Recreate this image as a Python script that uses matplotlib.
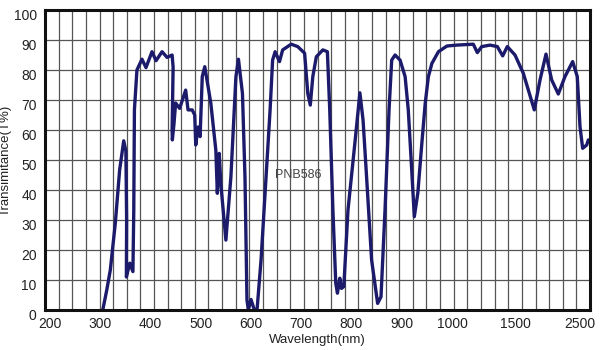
import matplotlib
matplotlib.use("Agg")
import matplotlib.pyplot as plt
import matplotlib.transforms as mtrans
import numpy as np

plt.rcParams['font.family'] = ['Liberation Sans', 'DejaVu Sans']

# transmittance curve (wavelength nm, T %)
wavelength = [305, 313, 320, 330, 338.6, 346.7, 351, 352.5, 352, 358.7, 365,
              366.7, 368, 373, 383, 391, 403, 411, 423, 433, 443, 445, 443,
              443.5, 446.7, 450, 458, 470, 474.7, 483, 488, 490, 494.7, 498.7,
              503, 508, 520, 530, 533, 536.7, 540, 550, 560, 570, 575, 583,
              588, 592, 594.7, 600, 606.7, 612, 620, 630, 638, 643, 648, 656.7,
              663, 680, 693, 706.7, 713, 718, 723, 730, 743, 752, 756.7, 763,
              768.7, 772, 776.7, 780, 784.7, 793, 806.7, 816.7, 823, 830, 840,
              852, 858.7, 866.7, 874.7, 880, 886.7, 896.7, 906.7, 913, 918.7,
              925, 932, 940, 946.7, 953, 960, 973, 990, 1037, 1169, 1201, 1236,
              1302, 1360, 1402, 1439, 1500, 1628, 1797, 1885, 1977, 2064, 2166,
              2269, 2387, 2458, 2500, 2541, 2603, 2628]
transmittance = [0, 6.7, 13.3, 29, 46.7, 56.4, 53, 30, 11, 15.6, 12.8,
                 33, 66.7, 80, 83.6, 80.8, 86.1, 83.1, 86.1, 84.2, 85, 81, 60,
                 56.7, 62, 69, 67.2, 73.3, 66.7, 66.7, 65, 55, 61, 57.8,
                 77.8, 81.1, 69, 53.3, 38.9, 52.2, 42, 23.3, 44.4, 77.8, 83.6, 72.2,
                 44.4, 3.3, 0, 3.5, 0, 0, 16.7, 44.4, 66.7, 83.3, 86.1, 82.8,
                 86.7, 88.6, 87.8, 85.6, 72.2, 68.3, 77.8, 84.4, 86.7, 86.1, 66.7, 33.3,
                 8.9, 5.6, 10.6, 7.2, 7.8, 33.3, 55.6, 72.4, 63.3, 44.4, 16.7,
                 2.2, 4.4, 33.3, 66.7, 83.3, 85, 83.3, 77.8, 66.7, 50,
                 31.1, 39, 55.6, 68.9, 77.8, 82.2, 86.1, 88, 88.3, 88.6, 85.8, 87.8,
                 88.3, 87.8, 84.7, 87.8, 85, 78.9, 66.7, 76.7, 85.3, 76.7, 72,
                 77.8, 82.8, 77.8, 61.1, 53.9, 55, 56.7]

xtick_values = [200, 300, 400, 500, 600, 700, 800, 900, 1000, 1500, 2500]
ytick_values = list(range(0, 101, 10))

# broken wavelength axis: linear to 1000, then squeezed
scale_wl = np.array([0, 200, 1000, 1500, 2500, 3000])
scale_pos = np.array([-50, 50, 452, 515, 580, 612.5])


def forward(w):
    return np.interp(w, scale_wl, scale_pos)


def inverse(p):
    return np.interp(p, scale_pos, scale_wl)


fig = plt.figure(figsize=(6, 3.5), dpi=100)
ax = fig.add_axes([45 / 600, 1 - 310 / 350, 545 / 600, 300 / 350])
ax.set_xscale('function', functions=(forward, inverse))
ax.set_xlim(inverse(45), inverse(590))
ax.set_ylim(0, 100)

# grid of the scanned sheet does not line up with the labels
grid_pos = 45 + 545 / 40 * np.arange(1, 40)
ax.set_xticks(inverse(grid_pos), minor=True)
ax.set_xticks(xtick_values)
ax.set_xticklabels([str(v) for v in xtick_values])
ax.set_yticks(ytick_values)
ax.grid(which='minor', axis='x', color='#555555', linewidth=0.9)
ax.grid(which='major', axis='y', color='#555555', linewidth=0.9)
ax.tick_params(which='both', length=0, labelsize=10, colors='#222222')
ax.tick_params(axis='y', pad=6)
ax.tick_params(axis='x', pad=5)

ax.plot(wavelength, transmittance, color='#1c1a6b', linewidth=2.4,
        solid_joinstyle='round', solid_capstyle='round', zorder=3)

ax.text(695, 45, "PNB586", fontsize=9, color='#444444', ha='center', va='center')

for s in ax.spines.values():
    s.set_linewidth(2.2)
    s.set_color('#111111')
    s.set_zorder(4)

ax.set_xlabel("Wavelength(nm)", fontsize=9.5, color='#222222', labelpad=2)
ax.set_ylabel("Transimitance(T%)", fontsize=9.5, color='#222222')
ax.yaxis.set_label_coords(-33 / 545, 0.5)

off = mtrans.ScaledTranslation(0, -3 / 72, fig.dpi_scale_trans)
for lab in ax.get_yticklabels():
    lab.set_transform(lab.get_transform() + off)

fig.savefig("out.png", dpi=100)
